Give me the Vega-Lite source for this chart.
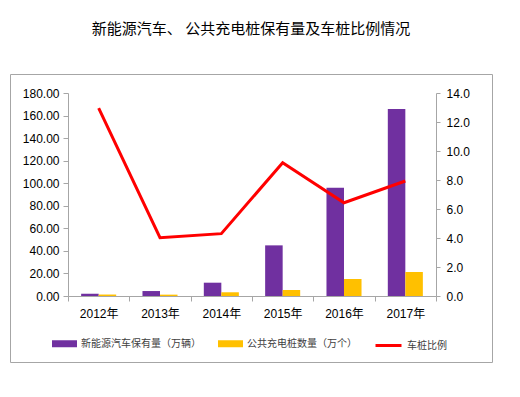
{
  "$schema": "https://vega.github.io/schema/vega-lite/v6.json",
  "width": 482,
  "height": 288,
  "autosize": "none",
  "padding": {"left": 10, "top": 74, "right": 28, "bottom": 35},
  "background": "#ffffff",
  "title": {
    "text": "新能源汽车、 公共充电桩保有量及车桩比例情况",
    "offset": 37,
    "fontSize": 15,
    "font": "Noto Sans CJK SC",
    "fontWeight": "normal",
    "color": "#000000",
    "anchor": "middle"
  },
  "datasets": {
    "bars": [
      {"year": "2012年", "series": "新能源汽车保有量（万辆）", "value": 2.0},
      {"year": "2012年", "series": "公共充电桩数量（万个）", "value": 1.3},
      {"year": "2013年", "series": "新能源汽车保有量（万辆）", "value": 4.4},
      {"year": "2013年", "series": "公共充电桩数量（万个）", "value": 1.2},
      {"year": "2014年", "series": "新能源汽车保有量（万辆）", "value": 11.8},
      {"year": "2014年", "series": "公共充电桩数量（万个）", "value": 3.3},
      {"year": "2015年", "series": "新能源汽车保有量（万辆）", "value": 44.9},
      {"year": "2015年", "series": "公共充电桩数量（万个）", "value": 5.3},
      {"year": "2016年", "series": "新能源汽车保有量（万辆）", "value": 96.0},
      {"year": "2016年", "series": "公共充电桩数量（万个）", "value": 15.1},
      {"year": "2017年", "series": "新能源汽车保有量（万辆）", "value": 165.8},
      {"year": "2017年", "series": "公共充电桩数量（万个）", "value": 21.3}
    ],
    "ratio": [
      {"year": "2012年", "ratio": 12.95},
      {"year": "2013年", "ratio": 4.02},
      {"year": "2014年", "ratio": 4.3},
      {"year": "2015年", "ratio": 9.19},
      {"year": "2016年", "ratio": 6.43},
      {"year": "2017年", "ratio": 7.93}
    ]
  },
  "layer": [
    {
      "data": {"name": "bars"},
      "mark": {"type": "bar"},
      "encoding": {
        "x": {
          "field": "year",
          "type": "nominal",
          "sort": null,
          "scale": {"range": [58, 426], "paddingInner": 0, "paddingOuter": 0},
          "axis": {
            "title": null,
            "offset": -66,
            "tickBand": "extent",
            "labelAngle": 0,
            "labelPadding": 7,
            "tickSize": 5
          }
        },
        "xOffset": {
          "field": "series",
          "type": "nominal",
          "sort": null,
          "scale": {"paddingOuter": 0.75, "paddingInner": 0}
        },
        "y": {
          "field": "value",
          "type": "quantitative",
          "scale": {"domain": [0, 180], "range": [222, 19], "nice": false},
          "axis": {
            "title": null,
            "offset": -58,
            "values": [0, 20, 40, 60, 80, 100, 120, 140, 160, 180],
            "format": ".2f",
            "labelPadding": 4,
            "tickSize": 5
          }
        },
        "color": {
          "field": "series",
          "type": "nominal",
          "sort": null,
          "scale": {
            "domain": ["新能源汽车保有量（万辆）", "公共充电桩数量（万个）"],
            "range": ["#7030A0", "#FFC000"]
          },
          "legend": {
            "title": null,
            "orient": "none",
            "direction": "horizontal",
            "legendX": 42,
            "legendY": 257,
            "symbolType": "M-1,-0.28H1V0.28H-1Z",
            "symbolSize": 625,
            "symbolStrokeWidth": 0,
            "columnPadding": 17,
            "labelOffset": 4,
            "labelFont": "Noto Sans CJK SC",
            "labelFontSize": 10,
            "labelColor": "#404040"
          }
        }
      }
    },
    {
      "data": {"name": "ratio"},
      "mark": {"type": "line", "strokeWidth": 3, "strokeJoin": "miter"},
      "encoding": {
        "x": {"field": "year", "type": "nominal", "sort": null},
        "y": {
          "field": "ratio",
          "type": "quantitative",
          "scale": {"domain": [0, 14], "range": [222, 19], "nice": false},
          "axis": {
            "title": null,
            "orient": "right",
            "offset": -56,
            "values": [0, 2, 4, 6, 8, 10, 12, 14],
            "format": ".1f",
            "labelPadding": 6,
            "tickSize": 4
          }
        },
        "stroke": {
          "datum": "车桩比例",
          "scale": {"domain": ["车桩比例"], "range": ["#FF0000"]},
          "legend": {
            "title": null,
            "orient": "none",
            "legendX": 364,
            "legendY": 257,
            "symbolType": "stroke",
            "symbolSize": 676,
            "symbolStrokeWidth": 3,
            "labelOffset": 4,
            "labelFont": "Noto Sans CJK SC",
            "labelFontSize": 10,
            "labelColor": "#404040"
          }
        }
      }
    }
  ],
  "resolve": {"scale": {"y": "independent"}},
  "config": {
    "view": {"stroke": "#a6a6a6", "strokeWidth": 1},
    "axis": {
      "grid": false,
      "domainColor": "#a6a6a6",
      "tickColor": "#a6a6a6",
      "labelColor": "#000000",
      "labelFont": "Liberation Sans, Noto Sans CJK SC",
      "labelFontSize": 12
    }
  }
}
